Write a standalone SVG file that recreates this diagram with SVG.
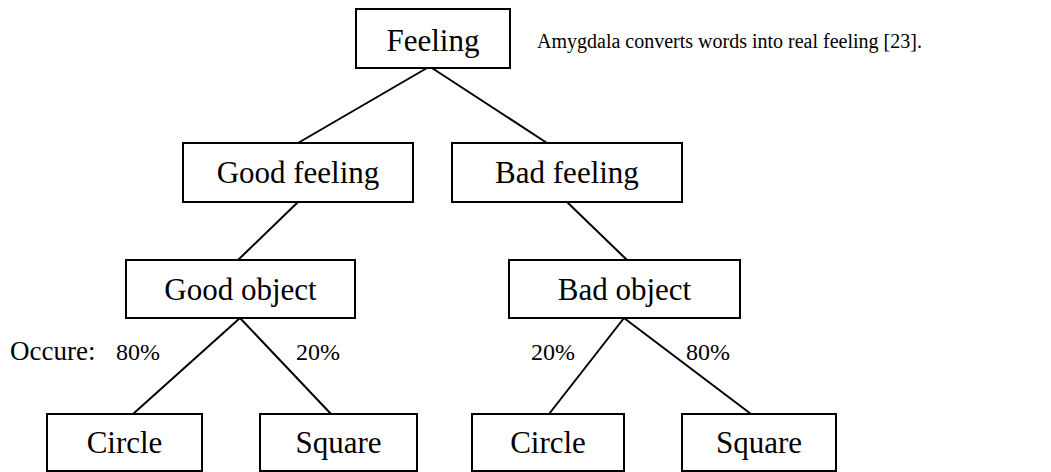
<svg xmlns="http://www.w3.org/2000/svg" width="1051" height="472" viewBox="0 0 1051 472" font-family="'Liberation Serif', 'Times New Roman', 'DejaVu Serif', serif">
<style>
rect{fill:#fff;stroke:#000;stroke-width:2}
.c line{stroke:#000;stroke-width:2}
text{font-family:'Liberation Serif','Times New Roman','DejaVu Serif',serif;fill:#000}
.n{font-size:31px;text-anchor:middle}
.l{font-size:24px}
.o{font-size:27px}
.a{font-size:20px}
</style>
<rect x="0" y="0" width="1051" height="472" style="stroke:none"/>
<g class="c" id="connectors">
<line x1="427" y1="68" x2="298" y2="143"/>
<line x1="432" y1="68" x2="547" y2="143"/>
<line x1="298" y1="202" x2="238" y2="260"/>
<line x1="567" y1="202" x2="627" y2="260"/>
<line x1="240" y1="318" x2="133" y2="414"/>
<line x1="240" y1="318" x2="331" y2="414"/>
<line x1="624" y1="318" x2="549" y2="414"/>
<line x1="624" y1="318" x2="751" y2="414"/>
</g>
<g id="feeling"><rect x="356" y="9" width="154" height="59"/><text class="n" x="433" y="51">Feeling</text></g>
<g id="good-feeling"><rect x="183" y="143" width="230" height="59"/><text class="n" x="298" y="183">Good feeling</text></g>
<g id="bad-feeling"><rect x="452" y="143" width="230" height="59"/><text class="n" x="567" y="183">Bad feeling</text></g>
<g id="good-object"><rect x="126" y="260" width="229" height="58"/><text class="n" x="240.5" y="300">Good object</text></g>
<g id="bad-object"><rect x="509" y="260" width="231" height="58"/><text class="n" x="624.5" y="300">Bad object</text></g>
<g id="circle-1"><rect x="47" y="414" width="155" height="57"/><text class="n" x="124.5" y="453">Circle</text></g>
<g id="square-1"><rect x="260" y="414" width="157" height="57"/><text class="n" x="338.5" y="453">Square</text></g>
<g id="circle-2"><rect x="472" y="414" width="152" height="57"/><text class="n" x="548" y="453">Circle</text></g>
<g id="square-2"><rect x="682" y="414" width="154" height="57"/><text class="n" x="759" y="453">Square</text></g>
<g id="labels">
<text class="a" x="537" y="48">Amygdala converts words into real feeling [23].</text>
<text class="o" x="10" y="360">Occure:</text>
<text class="l" x="116" y="360">80%</text>
<text class="l" x="296" y="360">20%</text>
<text class="l" x="531" y="360">20%</text>
<text class="l" x="686" y="360">80%</text>
</g>
</svg>
